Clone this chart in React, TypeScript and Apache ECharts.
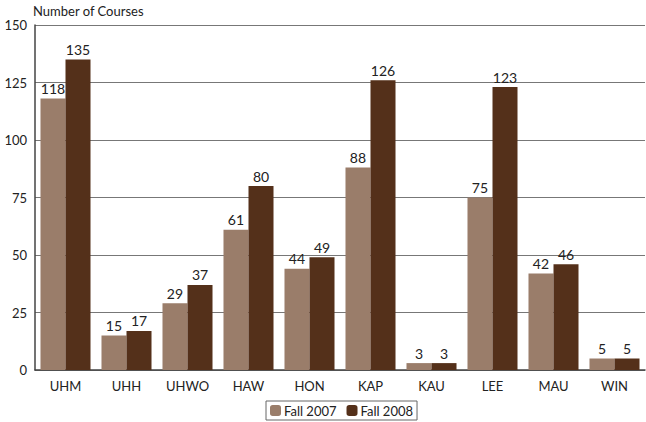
import React, { useEffect, useRef } from "react";
import * as echarts from "echarts";

const categories = ["UHM", "UHH", "UHWO", "HAW", "HON", "KAP", "KAU", "LEE", "MAU", "WIN"];
const fall2007 = [118, 15, 29, 61, 44, 88, 3, 75, 42, 5];
const fall2008 = [135, 17, 37, 80, 49, 126, 3, 123, 46, 5];
const seriesNames = ["Fall 2007", "Fall 2008"];

const FONT = "Lato, 'Open Sans', sans-serif";

export default function App() {
  const ref = useRef<HTMLDivElement>(null);
  useEffect(() => {
    const chart = echarts.init(ref.current!, null, { renderer: "svg" });
    const label = {
      show: true,
      position: "top",
      distance: 3,
      fontFamily: FONT,
      fontSize: 14,
      color: "#222",
    };
    chart.setOption({
      animation: false,
      textStyle: { fontFamily: FONT },
      grid: { left: 35, right: 1, top: 25, bottom: 52 },
      legend: {
        bottom: 2,
        left: 266,
        itemWidth: 11,
        itemHeight: 11,
        itemGap: 10,
        borderColor: "#666",
        borderWidth: 1,
        borderRadius: 0,
        padding: [3, 4, 3, 4],
        textStyle: { fontFamily: FONT, fontSize: 13, color: "#222", padding: [0, 0, 0, -2] },
        data: seriesNames,
      },
      xAxis: {
        type: "category",
        data: categories,
        axisLine: { lineStyle: { color: "#444", width: 1.5 } },
        axisTick: { show: false },
        axisLabel: { fontFamily: FONT, fontSize: 13, color: "#222", margin: 9 },
      },
      yAxis: {
        type: "value",
        min: 0,
        max: 150,
        interval: 25,
        name: "Number of Courses",
        nameLocation: "end",
        nameGap: 8,
        nameTextStyle: { fontFamily: FONT, fontSize: 13, color: "#222", align: "left", padding: [0, 0, 0, -2] },
        axisLine: { show: true, lineStyle: { color: "#444", width: 1.5 } },
        axisTick: { show: false },
        axisLabel: { fontFamily: FONT, fontSize: 13, color: "#222", margin: 8 },
        splitLine: { lineStyle: { color: "#777", width: 1 } },
      },
      series: [
        {
          name: seriesNames[0],
          type: "bar",
          data: fall2007,
          itemStyle: { color: "#9a7d6a" },
          barGap: "0%",
          barCategoryGap: "18%",
          label,
        },
        {
          name: seriesNames[1],
          type: "bar",
          data: fall2008,
          itemStyle: { color: "#54301a" },
          barGap: "0%",
          barCategoryGap: "18%",
          label,
        },
      ],
    });
    return () => chart.dispose();
  }, []);
  return (
    <div
      ref={ref}
      style={{ position: "fixed", left: 0, top: 0, width: 646, height: 422, background: "#fff" }}
    />
  );
}
